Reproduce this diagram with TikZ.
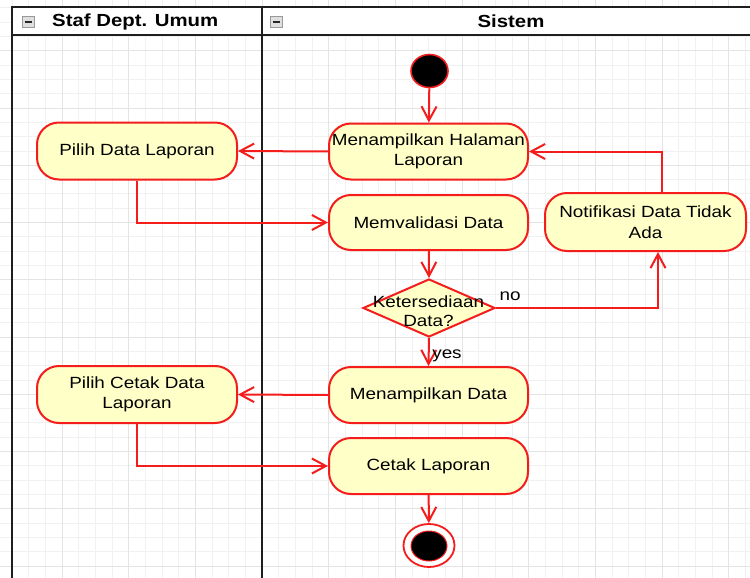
\documentclass[tikz,border=0pt]{standalone}
\usepackage{fontspec}
\setmainfont{Liberation Sans}[FakeStretch=1.165]
\usetikzlibrary{arrows.meta,shapes.geometric}

\definecolor{flowred}{RGB}{245,28,28}
\definecolor{actfill}{RGB}{255,255,200}
\definecolor{gridmin}{RGB}{241,241,241}
\definecolor{gridmaj}{RGB}{228,228,228}
\definecolor{laneline}{RGB}{30,30,30}

\tikzset{
  gridminor/.style={draw=gridmin, line width=0.8pt},
  gridmajor/.style={draw=gridmaj, line width=0.9pt},
  lanerule/.style={draw=laneline, line width=2.2pt},
  act/.style={draw=flowred, line width=2pt, fill=actfill, rounded corners=22pt,
    minimum width=199pt, minimum height=56pt, inner sep=0pt, align=center,
    font=\fontsize{16.2}{20.5}\selectfont},
  decision/.style={draw=flowred, line width=2pt, fill=actfill, shape=diamond,
    minimum width=132pt, minimum height=58pt, inner sep=0pt},
  flow/.style={draw=flowred, line width=2pt, -{Straight Barb[length=14pt,width=15pt]}},
  lbl/.style={font=\fontsize{16.2}{18}\selectfont, inner sep=0pt},
  lanehead/.style={font=\bfseries\fontsize{17.5}{18}\selectfont, inner sep=0pt},
  minusbox/.style={draw=gray!80, line width=0.8pt, fill=gray!25, minimum width=12pt,
    minimum height=11pt, inner sep=0pt, path picture={\draw[black!85, line width=1.6pt]
      ([xshift=-3.5pt]path picture bounding box.center) --
      ([xshift=3.5pt]path picture bounding box.center);}},
  startdot/.style={shape=ellipse, draw=flowred, line width=1.6pt, fill=black,
    minimum width=37pt, minimum height=33pt, inner sep=0pt},
  endring/.style={shape=ellipse, draw=flowred, line width=1.8pt, fill=white,
    minimum width=51pt, minimum height=43pt, inner sep=0pt},
  endcore/.style={shape=ellipse, draw=flowred, line width=1pt, fill=black,
    minimum width=36pt, minimum height=30pt, inner sep=0pt}
}

\begin{document}
\begin{tikzpicture}[x=1pt, y=-1pt]
\useasboundingbox (0,0) rectangle (750,578);
\fill[white] (0,0) rectangle (750,578);

% background grid
\foreach \i in {-4,...,42}
  \draw[gridminor] ({62+16.6667*\i},0) -- ({62+16.6667*\i},578);
\foreach \j in {-4,...,40}
  \draw[gridminor] (0,{50.75+14.3125*\j}) -- (750,{50.75+14.3125*\j});
\foreach \i in {-4,0,...,40}
  \draw[gridmajor] ({62+16.6667*\i},0) -- ({62+16.6667*\i},578);
\foreach \j in {-4,0,...,40}
  \draw[gridmajor] (0,{50.75+14.3125*\j}) -- (750,{50.75+14.3125*\j});

% swimlane frame and headers
\fill[white] (12,7) rectangle (750,35);
\draw[lanerule] (12,7) -- (750,7);
\draw[lanerule] (12,35) -- (750,35);
\draw[lanerule] (12,6) -- (12,578);
\draw[lanerule] (262,6) -- (262,578);

\node[minusbox] (foldA) at (28,22) {};
\node[minusbox] (foldB) at (276,22) {};
\node[lanehead, anchor=west] (laneA) at (52,21.5) {Staf Dept. Umum};
\node[lanehead] (laneB) at (511,21.5) {Sistem};

% activities
\node[startdot] (start) at (429.5,71) {};
\node[act] (mhl) at (428.5,151.5) {Menampilkan Halaman\\Laporan};
\node[act, minimum width=200pt, minimum height=57pt] (pilih) at (137,151) {Pilih Data Laporan};
\node[act, minimum height=55pt] (valid) at (428.5,222.5) {Memvalidasi Data};
\node[act, minimum width=201pt, minimum height=58pt] (notif) at (645.5,222) {Notifikasi Data Tidak\\Ada};
\node[decision] (dec) at (429,308) {};
\node[lbl, align=center, font=\fontsize{16.2}{19}\selectfont] (dectext) at (428.5,311) {Ketersediaan\\Data?};
\node[act] (md) at (428.5,395) {Menampilkan Data};
\node[act, minimum width=200pt, minimum height=57pt] (pcdl) at (137,394.5) {Pilih Cetak Data\\Laporan};
\node[act] (cetak) at (428.5,466) {Cetak Laporan};
\node[endring] (end) at (429,545.5) {};
\node[endcore] (endc) at (429,546) {};

% control flow
\draw[flow] (start) -- (mhl);
\draw[flow] (mhl.west) -- (pilih.east);
\draw[flow] (pilih.south) |- (valid.west);
\draw[flow] (valid) -- (dec.north);
\draw[flow] (dec.east) -| ([xshift=12.5pt]notif.south);
\draw[flow] ([xshift=16.5pt]notif.north) |- (mhl.east);
\draw[flow] (dec.south) -- (md.north);
\draw[flow] (md.west) -- (pcdl.east);
\draw[flow] (pcdl.south) |- (cetak.west);
\draw[flow] (cetak) -- (end);

\node[lbl] (nolbl) at (510,296) {no};
\node[lbl] (yeslbl) at (447,356) {yes};
\end{tikzpicture}
\end{document}
